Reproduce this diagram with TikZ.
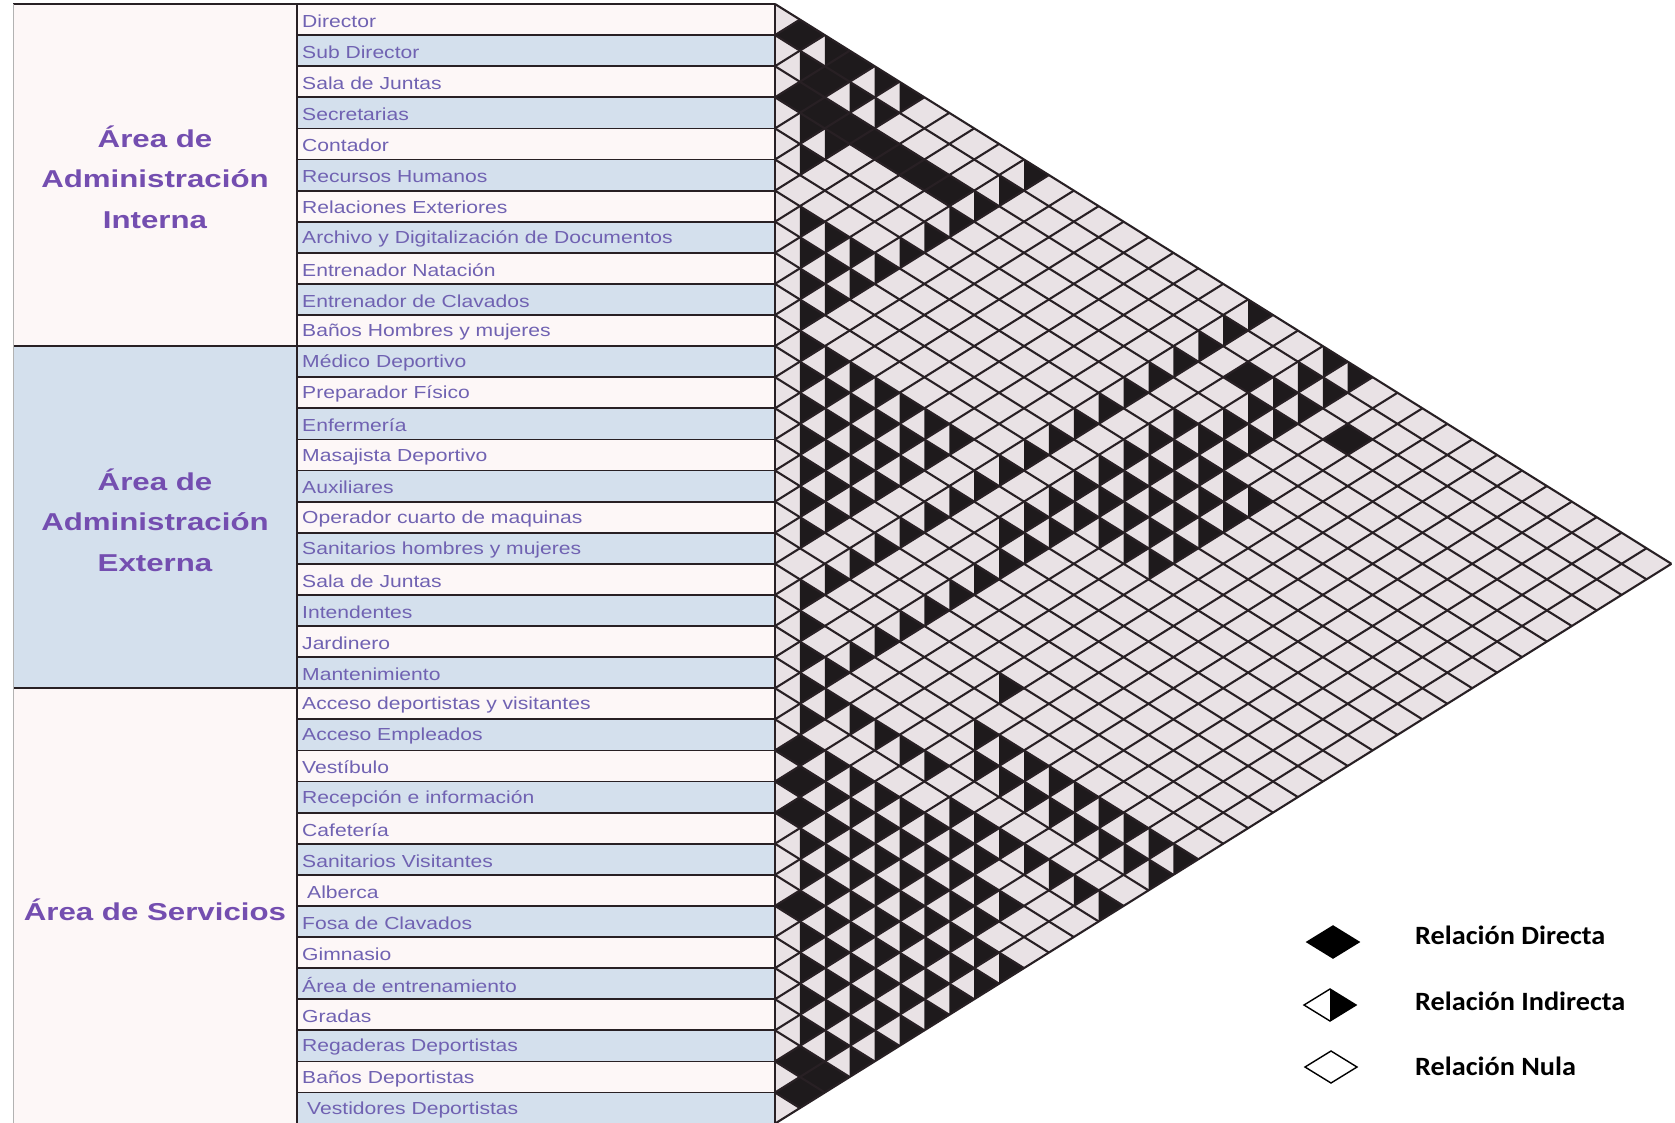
\documentclass[tikz,border=0pt]{standalone}
\usepackage{fontspec}
\setmainfont{Liberation Sans}
\newfontfamily\lblfont[FakeStretch=1.21]{Liberation Sans}
\newfontfamily\ttlfont[FakeStretch=1.28]{Liberation Sans}
\newfontfamily\legfont[FakeStretch=1.07]{Carlito}
\definecolor{lblue}{RGB}{212,224,237}
\definecolor{lpink}{RGB}{253,247,247}
\definecolor{txtc}{RGB}{112,98,178}
\definecolor{ttlc}{RGB}{116,78,176}
\definecolor{gridc}{RGB}{40,32,36}
\definecolor{cellbg}{RGB}{233,226,229}
\definecolor{blk}{RGB}{30,26,28}
\tikzset{
  lbl/.style={anchor=west, inner sep=0pt, text=txtc, font=\lblfont\fontsize{17.5}{17.5}\selectfont},
  ttl/.style={align=center, inner sep=0pt, text=ttlc, font=\ttlfont\bfseries\fontsize{24.5}{40.5}\selectfont},
  rowline/.style={draw=gridc, line width=1.8bp},
  gridl/.style={draw=gridc, line width=2.1bp},
  legtxt/.style={anchor=base west, inner sep=0pt, font=\legfont\bfseries\fontsize{26.5}{26.5}\selectfont},
  legd/.style={draw=black, line width=1.4bp}
}
\newcommand\icell[2]{%
  \pgfmathsetmacro\cx{775+(#2-#1)*24.9}%
  \pgfmathsetmacro\cy{4+(#1+#2+1)*15.55}%
  \fill[blk] (\cx,\cy-15.55) -- (\cx+24.9,\cy) -- (\cx,\cy+15.55) -- cycle;}
\newcommand\dcell[2]{%
  \pgfmathsetmacro\cx{775+(#2-#1)*24.9}%
  \pgfmathsetmacro\cy{4+(#1+#2+1)*15.55}%
  \fill[blk] (\cx-24.9,\cy) -- (\cx,\cy-15.55) -- (\cx+24.9,\cy) -- (\cx,\cy+15.55) -- cycle;}
\begin{document}
\begin{tikzpicture}[x=1bp,y=-1bp]
\useasboundingbox (0,0) rectangle (1675,1122);
\fill[white] (0,0) rectangle (1675,1122);
% group column
\fill[lpink] (13,4) rectangle (297,346);
\fill[lblue] (13,346) rectangle (297,688);
\fill[lpink] (13,688) rectangle (297,1124);
% row fills
\foreach \k in {0,2,...,34} \fill[lpink] (297,{4+\k*31.1}) rectangle (775,{4+(\k+1)*31.1});
\foreach \k in {1,3,...,35} \fill[lblue] (297,{4+\k*31.1}) rectangle (775,{4+(\k+1)*31.1});
% row labels
\foreach \k/\t in {0/Director,1/Sub Director,2/Sala de Juntas,3/Secretarias,4/Contador,5/Recursos Humanos,6/Relaciones Exteriores,7/Archivo y Digitalización de Documentos,8/Entrenador Natación,9/Entrenador de Clavados,10/Baños Hombres y mujeres,11/Médico Deportivo,12/Preparador Físico,13/Enfermería,14/Masajista Deportivo,15/Auxiliares,16/Operador cuarto de maquinas,17/Sanitarios hombres y mujeres,18/Sala de Juntas,19/Intendentes,20/Jardinero,21/Mantenimiento,22/Acceso deportistas y visitantes,23/Acceso Empleados,24/Vestíbulo,25/Recepción e información,26/Cafetería,27/Sanitarios Visitantes,28/\hspace{5bp}Alberca,29/Fosa de Clavados,30/Gimnasio,31/Área de entrenamiento,32/Gradas,33/Regaderas Deportistas,34/Baños Deportistas,35/\hspace{5bp}Vestidores Deportistas}
  \node[lbl] (r\k) at (302,{4+(\k+0.55)*31.1}) {\t};
% group titles
\node[ttl] (g1) at (155,177) {Área de\\Administración\\Interna};
\node[ttl] (g2) at (155,520) {Área de\\Administración\\Externa};
\node[ttl] (g3) at (155,910) {Área de Servicios};
% row lines
\foreach \k in {1,...,10,12,13,...,21,23,24,...,35} \draw[rowline] (297,{4+\k*31.1}) -- (775,{4+\k*31.1});
\foreach \k in {0,11,22} \draw[rowline] (13,{4+\k*31.1}) -- (775,{4+\k*31.1});
\draw[rowline] (297,4) -- (297,1124);
\draw[draw=gray!60, line width=0.8bp] (13,4) -- (13,1124);
% matrix background
\fill[cellbg] (775,4) -- (1671.4,563.8) -- (775,1123.6) -- cycle;
% ---- indirect relations ----
\foreach \i/\j in {0/2,1/2,0/4,0/5,1/4,1/5,3/4,3/5,4/5,0/10,1/10,2/10,3/10,4/10,5/10,
  0/22,0/23,1/22,1/23,2/22,2/23,3/22,3/23,4/22,4/23,
  5/21,5/22,5/23,11/21,12/21,17/26,
  19/20,20/21,21/23,21/24,21/25,21/26,21/27,22/23,23/25}
  {\icell{\i}{\j}}
% block 6-10
\foreach \i in {6,...,9}{\pgfmathtruncatemacro\ip{\i+1}\foreach \j in {\ip,...,10}{\icell{\i}{\j}}}
% block 10-17
\foreach \i in {10,...,16}{\pgfmathtruncatemacro\ip{\i+1}\foreach \j in {\ip,...,17}{\icell{\i}{\j}}}
% column 19
\foreach \i in {0,...,18}{\icell{\i}{19}}
% column 22
\foreach \i in {5,...,21}{\icell{\i}{22}}
% cluster rows 6-10 x cols 21-25
\foreach \i in {6,...,10}{\foreach \j in {21,...,25}{\icell{\i}{\j}}}
% rows 19, 20, 22, 23 toward the services
\foreach \j in {27,...,35}{\icell{19}{\j}}
\foreach \j in {28,...,35}{\icell{20}{\j}}
\foreach \j in {29,...,35}{\icell{22}{\j}}
\foreach \j in {26,...,31}{\icell{23}{\j}}
% services lattice
\foreach \j in {26,...,33}{\icell{24}{\j}}
\foreach \j in {27,...,33}{\icell{25}{\j}}
\foreach \i in {26,...,34}{\pgfmathtruncatemacro\ip{\i+1}\foreach \j in {\ip,...,35}{\icell{\i}{\j}}}
% ---- direct relations ----
\foreach \i/\j in {0/1,0/3,1/3,2/3,2/4,2/5,2/6,2/7,2/8,2/9,2/21,2/25,23/24,24/25,25/26,28/29,33/34,34/35,33/35}
  {\dcell{\i}{\j}}
% grid lines
\foreach \k in {0,...,36}{
  \pgfmathsetmacro\yk{4+\k*31.1}
  \draw[gridl] (775,\yk) -- ++({(36-\k)*24.9},{(36-\k)*15.55});
  \draw[gridl] (775,\yk) -- ++({\k*24.9},{-\k*15.55});
}
\draw[rowline] (775,4) -- (775,1124);
% legend
\draw[legd, fill=black] (1307,942) -- (1333,926) -- (1359,942) -- (1333,958) -- cycle;
\draw[legd] (1304,1005) -- (1330,989) -- (1356,1005) -- (1330,1021) -- cycle;
\fill[black] (1330,989) -- (1356,1005) -- (1330,1021) -- cycle;
\draw[legd] (1305,1067) -- (1331,1051) -- (1357,1067) -- (1331,1083) -- cycle;
\node[legtxt] (l1) at (1415,944) {Relación Directa};
\node[legtxt] (l2) at (1415,1010) {Relación Indirecta};
\node[legtxt] (l3) at (1415,1075) {Relación Nula};
\end{tikzpicture}
\end{document}
